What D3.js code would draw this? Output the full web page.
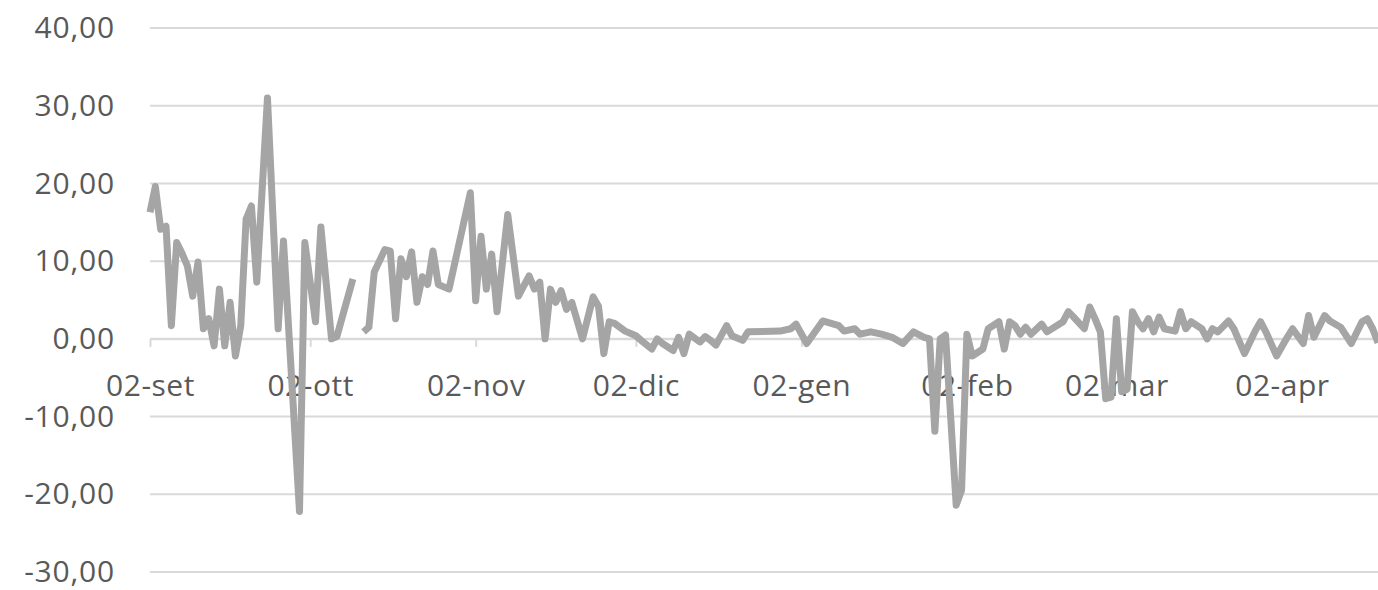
<!DOCTYPE html>
<html>
<head>
<meta charset="utf-8">
<script src="https://cdn.jsdelivr.net/npm/d3@7"></script>
<style>
  html, body { margin: 0; padding: 0; background: #ffffff; }
  svg { display: block; }
  text { font-family: "Open Sans", sans-serif; }
</style>
</head>
<body>
<svg id="chart" width="1378" height="590"></svg>
<script>
// ---- data ----
const dates = [
  "2018-09-02","2018-09-03","2018-09-04","2018-09-05","2018-09-06","2018-09-07","2018-09-08","2018-09-09",
  "2018-09-10","2018-09-11","2018-09-12","2018-09-13","2018-09-14","2018-09-15","2018-09-16","2018-09-17",
  "2018-09-18","2018-09-19","2018-09-20","2018-09-21","2018-09-22","2018-09-24","2018-09-26","2018-09-27",
  "2018-09-30","2018-10-01","2018-10-03","2018-10-04","2018-10-06","2018-10-07","2018-10-10","2018-10-11",
  "2018-10-12","2018-10-13","2018-10-14","2018-10-16","2018-10-17","2018-10-18","2018-10-19","2018-10-20",
  "2018-10-21","2018-10-22","2018-10-23","2018-10-24","2018-10-25","2018-10-26","2018-10-28",
  "2018-11-01","2018-11-02","2018-11-03","2018-11-04","2018-11-05","2018-11-06","2018-11-08","2018-11-10",
  "2018-11-12","2018-11-13","2018-11-14","2018-11-15","2018-11-16","2018-11-17","2018-11-18","2018-11-19",
  "2018-11-20","2018-11-22","2018-11-24","2018-11-25","2018-11-26","2018-11-27","2018-11-28","2018-11-30",
  "2018-12-02","2018-12-03","2018-12-05","2018-12-06","2018-12-07","2018-12-09","2018-12-10","2018-12-11",
  "2018-12-12","2018-12-14","2018-12-15","2018-12-16","2018-12-17","2018-12-19","2018-12-20","2018-12-22",
  "2018-12-23","2018-12-29","2018-12-31",
  "2019-01-01","2019-01-03","2019-01-06","2019-01-09","2019-01-10","2019-01-12","2019-01-13","2019-01-15",
  "2019-01-17","2019-01-19","2019-01-21","2019-01-23","2019-01-25","2019-01-26","2019-01-27","2019-01-28",
  "2019-01-29","2019-01-31",
  "2019-02-01","2019-02-02","2019-02-03","2019-02-05","2019-02-06","2019-02-08","2019-02-09","2019-02-10",
  "2019-02-11","2019-02-12","2019-02-13","2019-02-14","2019-02-16","2019-02-17","2019-02-20","2019-02-21",
  "2019-02-22","2019-02-24","2019-02-25","2019-02-26","2019-02-27","2019-02-28",
  "2019-03-01","2019-03-02","2019-03-03","2019-03-04","2019-03-05","2019-03-06","2019-03-07","2019-03-08",
  "2019-03-09","2019-03-10","2019-03-11","2019-03-13","2019-03-14","2019-03-15","2019-03-16","2019-03-18",
  "2019-03-19","2019-03-20","2019-03-21","2019-03-23","2019-03-24","2019-03-26","2019-03-28","2019-03-29",
  "2019-03-30",
  "2019-04-01","2019-04-03","2019-04-04","2019-04-06","2019-04-07","2019-04-08","2019-04-10","2019-04-11",
  "2019-04-13","2019-04-15","2019-04-17","2019-04-18","2019-04-19","2019-04-20"
];
const values = [
  16.3, 19.6, 14.1, 14.5, 1.7, 12.4, 11.0, 9.4,
  5.5, 9.9, 1.3, 2.6, -0.9, 6.4, -0.9, 4.7,
  -2.2, 1.7, 15.4, 17.1, 7.3, 31.0, 1.3, 12.6,
  -22.2, 12.4, 2.2, 14.4, 0.0, 0.3, 7.7, null,
  0.9, 1.5, 8.6, 11.5, 11.3, 2.6, 10.3, 8.0,
  11.2, 4.7, 8.0, 7.0, 11.3, 7.0, 6.4,
  18.8, 4.9, 13.2, 6.4, 10.9, 3.5, 16.0, 5.5,
  8.1, 6.4, 7.3, 0.0, 6.4, 4.7, 6.2, 3.8,
  4.7, 0.0, 5.4, 4.2, -1.9, 2.2, 2.0, 1.0,
  0.4, -0.2, -1.3, 0.0, -0.6, -1.5, 0.2, -1.9,
  0.6, -0.4, 0.3, -0.2, -0.8, 1.7, 0.4, -0.2,
  0.9, 1.0, 1.3,
  1.9, -0.6, 2.3, 1.7, 1.0, 1.3, 0.6, 0.9,
  0.6, 0.2, -0.6, 0.9, 0.2, 0.0, -11.9, 0.0,
  0.5, -21.4,
  -19.5, 0.6, -2.2, -1.3, 1.3, 2.2, -1.3, 2.2,
  1.7, 0.6, 1.5, 0.6, 1.9, 0.9, 2.2, 3.5,
  2.8, 1.3, 4.1, 2.6, 0.9, -7.7,
  -7.5, 2.6, -6.8, -6.5, 3.5, 2.2, 1.3, 2.6,
  0.9, 2.8, 1.3, 1.0, 3.5, 1.3, 2.2, 1.3,
  0.0, 1.3, 0.9, 2.3, 1.3, -1.9, 1.0, 2.2,
  0.9,
  -2.2, 0.2, 1.3, -0.6, 3.0, 0.2, 3.0, 2.3,
  1.5, -0.6, 2.2, 2.6, 1.3, -0.5
];
const yTicks = [-30, -20, -10, 0, 10, 20, 30, 40];
const xTickDates = ["2018-09-02","2018-10-02","2018-11-02","2018-12-02","2019-01-02","2019-02-02","2019-03-02","2019-04-02"];
const xTickLabels = ["02-set","02-ott","02-nov","02-dic","02-gen","02-feb","02-mar","02-apr"];
const domainStart = "2018-09-02";
const domainEnd = "2019-04-20";

// ---- chart ----
(function () {
  const parse = d3.timeParse("%Y-%m-%d");
  const series = dates.map((d, i) => ({ date: parse(d), v: values[i] }));

  const svg = d3.select("#chart");
  const plotLeft = 150, plotRight = 1378, plotTop = 28, plotBottom = 572;

  const x = d3.scaleTime().domain([parse(domainStart), parse(domainEnd)]).range([plotLeft, plotRight]);
  const y = d3.scaleLinear().domain([-30, 40]).range([plotBottom, plotTop]);

  const itLocale = d3.formatLocale({ decimal: ",", thousands: ".", grouping: [3], currency: ["€", ""], minus: "-" });
  const fmt = itLocale.format(".2f");

  // gridlines
  svg.append("g")
    .selectAll("line")
    .data(yTicks)
    .join("line")
    .attr("x1", plotLeft).attr("x2", plotRight)
    .attr("y1", d => y(d)).attr("y2", d => y(d))
    .attr("stroke", "#d9d9d9").attr("stroke-width", 2);

  // y axis labels
  const yAxis = d3.axisLeft(y).tickValues(yTicks).tickFormat(fmt).tickSize(0).tickPadding(0);
  const gy = svg.append("g").attr("transform", "translate(115,0)").call(yAxis);
  gy.select(".domain").remove();
  gy.selectAll("text")
    .attr("font-family", "'Open Sans', sans-serif")
    .attr("font-size", 30)
    .attr("letter-spacing", 0.8)
    .attr("fill", "#595959")
    .attr("dy", "0.32em");

  // x axis at 0
  const xTickMap = new Map(xTickDates.map((d, i) => [+parse(d), xTickLabels[i]]));
  const xAxis = d3.axisBottom(x)
    .tickValues(xTickDates.map(parse))
    .tickFormat(d => xTickMap.get(+d))
    .tickSize(8).tickSizeOuter(0);
  const gx = svg.append("g").attr("transform", `translate(0,${y(0)})`).call(xAxis);
  gx.select(".domain").attr("stroke", "#d9d9d9").attr("stroke-width", 2);
  gx.selectAll(".tick line").attr("stroke", "#d9d9d9").attr("stroke-width", 2);
  gx.selectAll("text")
    .attr("font-family", "'Open Sans', sans-serif")
    .attr("font-size", 30)
    .attr("letter-spacing", 0.5)
    .attr("fill", "#595959")
    .attr("y", 57)
    .attr("dy", null);

  // line
  const line = d3.line()
    .defined(d => d.v !== null)
    .x(d => x(d.date))
    .y(d => y(d.v));

  svg.append("path")
    .datum(series)
    .attr("fill", "none")
    .attr("stroke", "#a5a5a5")
    .attr("stroke-width", 7)
    .attr("stroke-linejoin", "round")
    .attr("stroke-linecap", "butt")
    .attr("d", line);
})();
</script>
</body>
</html>
